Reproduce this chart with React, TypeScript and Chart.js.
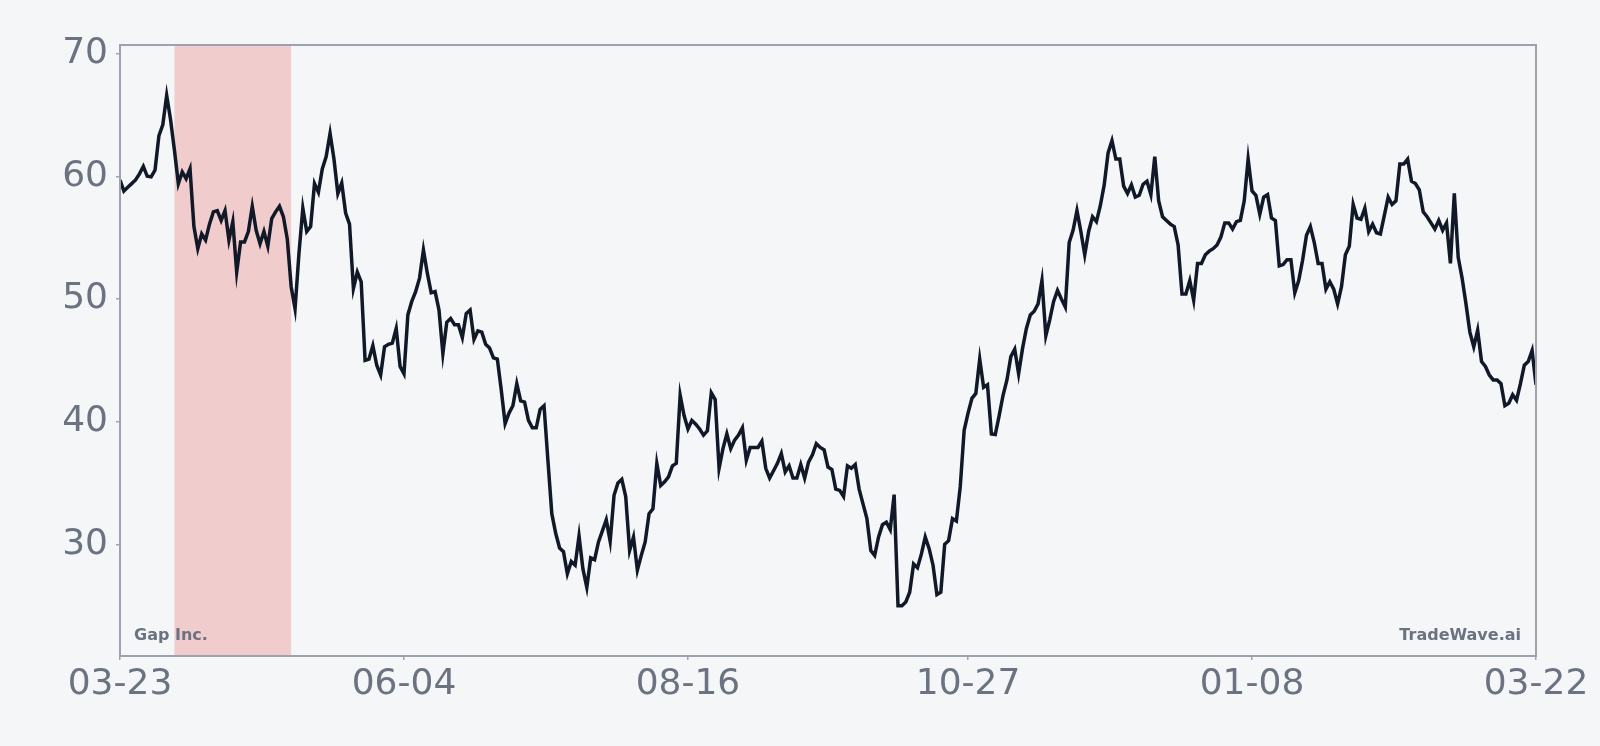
import React, { useEffect, useRef } from 'react';
import { Chart, registerables } from 'chart.js';

Chart.register(...registerables);

// one closing price per calendar day, starting at START_DATE
const START_DATE = '2022-03-23';
const prices = [
  59.7, 58.8, 59.1, 59.4, 59.7, 60.2, 60.8, 60.0, 59.95, 60.5,
  63.3, 64.2, 66.6, 64.6, 62.1, 59.4, 60.35, 59.8, 60.6, 55.9,
  54.1, 55.3, 54.8, 56.1, 57.1, 57.2, 56.4, 57.2, 54.8, 56.3,
  52.2, 54.65, 54.65, 55.5, 57.55, 55.6, 54.5, 55.5, 54.3, 56.55,
  57.1, 57.55, 56.7, 54.9, 51.0, 49.2, 53.7, 57.4, 55.5, 55.9,
  59.4, 58.7, 60.6, 61.6, 63.5, 61.4, 58.6, 59.45, 57.0, 56.1,
  50.85, 52.2, 51.4, 45.0, 45.1, 46.2, 44.6, 43.8, 46.1, 46.3,
  46.4, 47.6, 44.5, 43.9, 48.7, 49.8, 50.6, 51.7, 54.0, 52.1,
  50.5, 50.6, 49.1, 45.55, 48.1, 48.4, 47.9, 47.9, 46.85, 48.8,
  49.1, 46.7, 47.4, 47.3, 46.3, 46.0, 45.2, 45.1, 42.6, 39.85,
  40.7, 41.3, 43.1, 41.7, 41.6, 40.1, 39.5, 39.5, 41.0, 41.3,
  36.85, 32.5, 30.9, 29.7, 29.4, 27.6, 28.6, 28.3, 30.7, 28.0,
  26.5, 28.9, 28.75, 30.2, 31.1, 32.0, 30.25, 34.0, 35.0, 35.3,
  33.9, 29.5, 30.6, 27.9, 29.1, 30.2, 32.5, 32.9, 36.6, 34.8,
  35.1, 35.5, 36.4, 36.6, 42.15, 40.5, 39.4, 40.1, 39.8, 39.4,
  38.9, 39.25, 42.35, 41.8, 36.2, 37.8, 39.0, 37.8, 38.5, 38.9,
  39.5, 36.85, 37.9, 37.9, 37.9, 38.4, 36.2, 35.4, 36.0, 36.6,
  37.4, 35.9, 36.4, 35.4, 35.4, 36.5, 35.4, 36.7, 37.3, 38.2,
  37.9, 37.7, 36.3, 36.1, 34.5, 34.4, 33.9, 36.4, 36.2, 36.5,
  34.5, 33.3, 32.1, 29.5, 29.1, 30.6, 31.6, 31.8, 31.2, 34.05,
  25.0, 25.0, 25.3, 26.1, 28.4, 28.1, 29.2, 30.6, 29.65, 28.3,
  25.9, 26.1, 30.0, 30.3, 32.1, 31.9, 34.7, 39.3, 40.7, 41.9,
  42.3, 45.1, 42.8, 43.0, 39.0, 38.95, 40.5, 42.15, 43.4, 45.3,
  45.9, 43.9, 45.95, 47.6, 48.7, 49.0, 49.6, 51.5, 47.0, 48.3,
  49.8, 50.7, 50.0, 49.35, 54.6, 55.6, 57.2, 55.5, 53.6, 55.5,
  56.7, 56.3, 57.6, 59.3, 61.9, 62.9, 61.4, 61.4, 59.2, 58.6,
  59.3, 58.3, 58.45, 59.35, 59.6, 58.5, 61.6, 58.0, 56.7, 56.4,
  56.1, 55.9, 54.4, 50.4, 50.4, 51.5, 49.9, 52.9, 52.9, 53.6,
  53.9, 54.1, 54.4, 55.05, 56.2, 56.2, 55.7, 56.3, 56.4, 58.0,
  61.4, 58.8, 58.45, 56.9, 58.3, 58.5, 56.6, 56.4, 52.7, 52.8,
  53.2, 53.2, 50.5, 51.5, 53.15, 55.2, 55.9, 54.6, 52.9, 52.9,
  50.8, 51.4, 50.8, 49.6, 51.0, 53.6, 54.3, 57.7, 56.6, 56.5,
  57.4, 55.5, 56.1, 55.4, 55.3, 56.8, 58.3, 57.7, 58.0, 61.0,
  61.0, 61.4, 59.6, 59.4, 58.9, 57.1, 56.7, 56.2, 55.7, 56.4,
  55.6, 56.2, 52.9, 58.6, 53.4, 51.7, 49.6, 47.3, 46.1, 47.45,
  44.9, 44.5, 43.8, 43.4, 43.4, 43.1, 41.3, 41.5, 42.2, 41.75,
  43.1, 44.6, 44.9, 45.8, 43.0,
];
const xTickDays = [0, 73, 146, 218, 291, 364];
const yTicks = [30, 40, 50, 60, 70];
const shadeDays = [14, 44];
const companyName = 'Gap Inc.';
const brandName = 'TradeWave.ai';

const GRAY = '#6b7280';
const BORDER = '#9ca3af';
const BG = '#f4f6f8';

const dayLabel = (offset: number) => {
  const d = new Date(START_DATE + 'T00:00:00Z');
  d.setUTCDate(d.getUTCDate() + offset);
  const mm = String(d.getUTCMonth() + 1).padStart(2, '0');
  const dd = String(d.getUTCDate()).padStart(2, '0');
  return `${mm}-${dd}`;
};

const decorPlugin = {
  id: 'decor',
  beforeDatasetsDraw(chart: any) {
    const { ctx, chartArea, scales } = chart;
    const x0 = scales.x.getPixelForValue(shadeDays[0]);
    const x1 = scales.x.getPixelForValue(shadeDays[1]);
    ctx.save();
    ctx.fillStyle = '#f0cccd';
    ctx.fillRect(x0, chartArea.top, x1 - x0, chartArea.bottom - chartArea.top);
    ctx.restore();
  },
  afterDraw(chart: any) {
    const { ctx, chartArea } = chart;
    ctx.save();
    ctx.strokeStyle = BORDER;
    ctx.lineWidth = 2;
    ctx.strokeRect(chartArea.left, chartArea.top, chartArea.right - chartArea.left, chartArea.bottom - chartArea.top);
    ctx.fillStyle = GRAY;
    ctx.font = 'bold 16px "DejaVu Sans"';
    ctx.textBaseline = 'alphabetic';
    ctx.textAlign = 'left';
    ctx.fillText(companyName, chartArea.left + 14, chartArea.bottom - 16);
    ctx.textAlign = 'right';
    ctx.fillText(brandName, chartArea.right - 15, chartArea.bottom - 16);
    ctx.restore();
  },
};

const PriceChart: React.FC = () => {
  const chartRef = useRef<HTMLCanvasElement>(null);
  const chartInstanceRef = useRef<Chart | null>(null);

  useEffect(() => {
    document.body.style.margin = '0';
    document.body.style.background = BG;
    if (chartRef.current) {
      if (chartInstanceRef.current) {
        chartInstanceRef.current.destroy();
      }
      const ctx = chartRef.current.getContext('2d');
      if (ctx) {
        chartInstanceRef.current = new Chart(ctx, {
          type: 'line',
          data: {
            datasets: [{
              data: prices.map((p, i) => ({ x: i, y: p })),
              borderColor: '#111827',
              borderWidth: 3.5,
              pointRadius: 0,
              tension: 0,
              fill: false,
            }],
          },
          options: {
            animation: false,
            responsive: true,
            maintainAspectRatio: false,
            devicePixelRatio: 1,
            layout: { padding: { top: 45, right: 64, bottom: 0, left: 0 } },
            plugins: {
              legend: { display: false },
              tooltip: { enabled: false },
            },
            scales: {
              x: {
                type: 'linear',
                min: 0,
                max: prices.length - 1,
                afterBuildTicks: (scale: any) => {
                  scale.ticks = xTickDays.map((v) => ({ value: v }));
                },
                afterFit: (scale: any) => {
                  scale.height = 90;
                },
                border: { display: false },
                grid: { drawOnChartArea: false, drawTicks: true, tickLength: 4, color: BORDER, lineWidth: 1.5 },
                ticks: {
                  color: GRAY,
                  font: { family: 'DejaVu Sans', size: 36 },
                  padding: 3,
                  maxRotation: 0,
                  autoSkip: false,
                  callback: (v: any) => dayLabel(Number(v)),
                },
              },
              y: {
                min: 20.9,
                max: 70.7,
                afterBuildTicks: (scale: any) => {
                  scale.ticks = yTicks.map((v) => ({ value: v }));
                },
                afterFit: (scale: any) => {
                  scale.width = 120;
                },
                border: { display: false },
                grid: { drawOnChartArea: false, drawTicks: true, tickLength: 4, color: BORDER, lineWidth: 1.5 },
                ticks: {
                  color: GRAY,
                  font: { family: 'DejaVu Sans', size: 36 },
                  padding: 8,
                },
              },
            },
          },
          plugins: [decorPlugin],
        });
      }
    }
    return () => {
      if (chartInstanceRef.current) {
        chartInstanceRef.current.destroy();
        chartInstanceRef.current = null;
      }
    };
  }, []);

  return (
    <div style={{ width: 1600, height: 746, background: BG }}>
      <canvas ref={chartRef}></canvas>
    </div>
  );
};

export default function App() {
  return <PriceChart />;
}
